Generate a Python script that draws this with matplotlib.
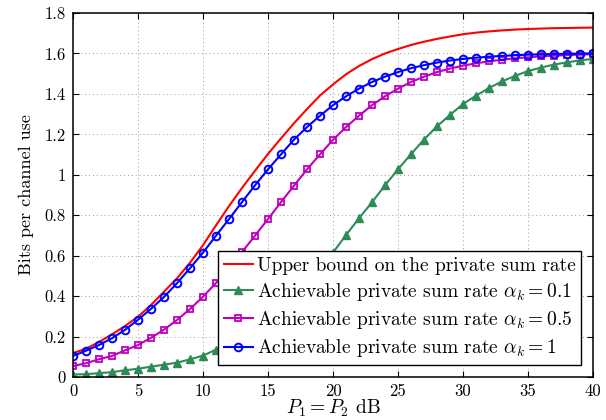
import matplotlib
matplotlib.use("Agg")
import matplotlib.pyplot as plt
import numpy as np

plt.rcParams.update({
    "font.family": "serif",
    "font.serif": ["cmr10", "DejaVu Serif"],
    "mathtext.fontset": "cm",
    "axes.formatter.use_mathtext": True,
    "axes.unicode_minus": False,
})

# SNR grid in dB (one point per dB)
snr_db = list(range(0, 41))

upper_bound = [0.118, 0.140, 0.173, 0.211, 0.252, 0.298, 0.356, 0.422, 0.488, 0.565,
               0.652, 0.750, 0.845, 0.935, 1.020, 1.103, 1.180, 1.255, 1.325, 1.392,
               1.447, 1.497, 1.538, 1.572, 1.600, 1.622, 1.642, 1.658, 1.672, 1.684,
               1.695, 1.703, 1.709, 1.714, 1.718, 1.721, 1.723, 1.725, 1.726, 1.727,
               1.728]

rate_a01 = [0.012, 0.014, 0.019, 0.024, 0.033, 0.041, 0.051, 0.061, 0.071, 0.087,
            0.106, 0.135, 0.160, 0.193, 0.234, 0.283, 0.337, 0.396, 0.464, 0.538,
            0.615, 0.702, 0.785, 0.864, 0.948, 1.027, 1.102, 1.174, 1.240, 1.296,
            1.350, 1.391, 1.429, 1.462, 1.489, 1.513, 1.530, 1.545, 1.556, 1.566,
            1.573]

rate_a05 = [0.054, 0.068, 0.088, 0.104, 0.132, 0.158, 0.194, 0.234, 0.282, 0.336,
            0.397, 0.465, 0.540, 0.618, 0.699, 0.781, 0.865, 0.946, 1.027, 1.101,
            1.173, 1.236, 1.292, 1.344, 1.388, 1.426, 1.459, 1.485, 1.508, 1.525,
            1.540, 1.551, 1.561, 1.569, 1.576, 1.581, 1.586, 1.589, 1.592, 1.594,
            1.597]

rate_a1 = [0.104, 0.130, 0.158, 0.192, 0.233, 0.283, 0.337, 0.396, 0.464, 0.538,
           0.615, 0.699, 0.781, 0.865, 0.948, 1.027, 1.101, 1.174, 1.236, 1.292,
           1.344, 1.388, 1.426, 1.459, 1.485, 1.508, 1.527, 1.542, 1.555, 1.565,
           1.573, 1.579, 1.584, 1.588, 1.591, 1.594, 1.596, 1.597, 1.599, 1.599,
           1.601]

x_ticks = [0, 5, 10, 15, 20, 25, 30, 35, 40]
y_ticks = [0, 0.2, 0.4, 0.6, 0.8, 1.0, 1.2, 1.4, 1.6, 1.8]
y_tick_labels = ["0", "0.2", "0.4", "0.6", "0.8", "1", "1.2", "1.4", "1.6", "1.8"]

GREEN = "#2E8B57"
MAGENTA = "#C000C0"

fig = plt.figure(figsize=(6.06, 4.2), dpi=100)
ax = fig.add_axes([0.1205, 0.1024, 0.858, 0.8666])

ax.plot(snr_db, upper_bound, color="red", lw=1.5,
        label="Upper bound on the private sum rate")
ax.plot(snr_db, rate_a01, color=GREEN, lw=1.5, marker="^", ms=5.5,
        mfc=GREEN, mec=GREEN,
        label=r"Achievable private sum rate $\alpha_k = 0.1$")
ax.plot(snr_db, rate_a05, color=MAGENTA, lw=1.5, marker="s", ms=4.5,
        mfc="none", mec=MAGENTA, mew=1.3,
        label=r"Achievable private sum rate $\alpha_k = 0.5$")
ax.plot(snr_db, rate_a1, color="blue", lw=1.5, marker="o", ms=5.5,
        mfc="none", mec="blue", mew=1.4,
        label=r"Achievable private sum rate $\alpha_k = 1$")

ax.set_xlim(0, 40)
ax.set_ylim(0, 1.8)
ax.set_xticks(x_ticks)
ax.set_xticklabels([str(v) for v in x_ticks])
ax.set_yticks(y_ticks)
ax.set_yticklabels(y_tick_labels)
ax.tick_params(direction="in", top=True, right=True, labelsize=12, length=4, pad=5)
ax.grid(True, color="#999999", linestyle=(0, (1, 3)), lw=0.7)
for sp in ax.spines.values():
    sp.set_linewidth(1.1)

ax.set_xlabel(r"$P_1 = P_2$ dB", fontsize=14, labelpad=-1)
ax.set_ylabel("Bits per channel use", fontsize=13, labelpad=8)

leg = ax.legend(loc="lower right", fontsize=14, frameon=True, fancybox=False,
                edgecolor="black", framealpha=1, handlelength=1.5,
                borderpad=0.3, labelspacing=0.32, handletextpad=0.2,
                borderaxespad=0.6)
leg.get_frame().set_linewidth(1.0)

fig.savefig("out.png", dpi=100)
